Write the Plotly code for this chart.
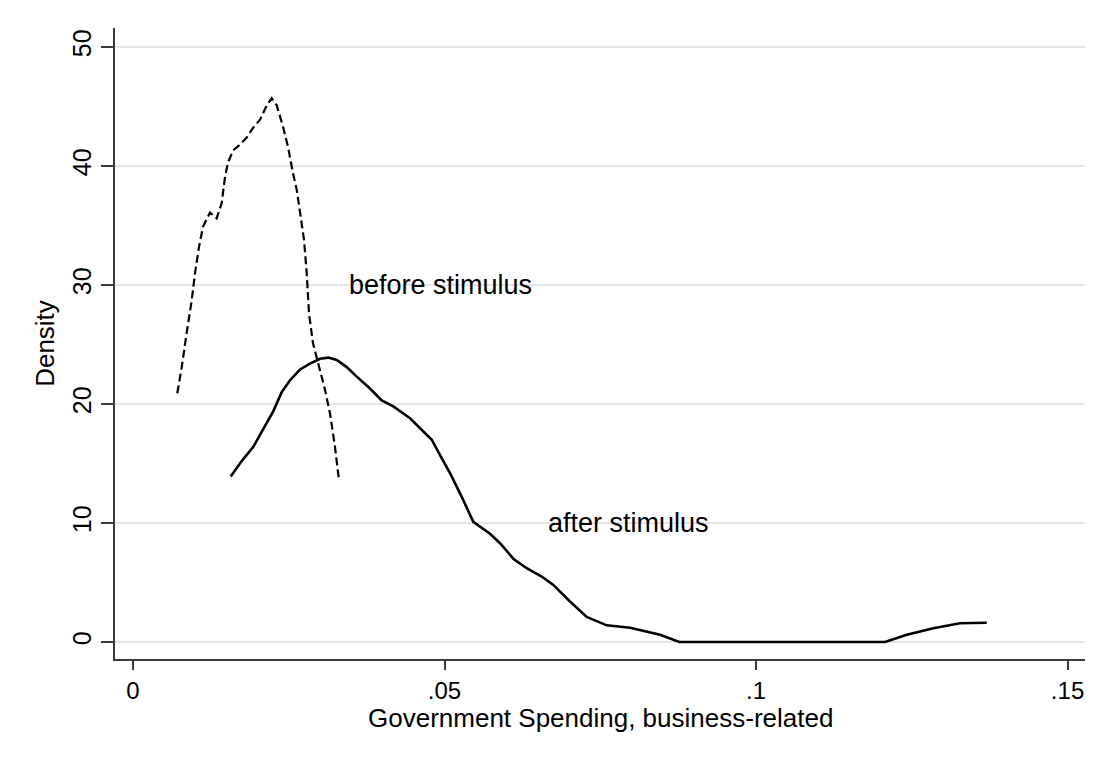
import plotly.graph_objects as go

# Kernel density estimates, business-related government spending share
before_x = [0.00711, 0.00782, 0.00862, 0.00942, 0.00995, 0.01059, 0.01124, 0.01236,
            0.01343, 0.01424, 0.01477, 0.01525, 0.01605, 0.01717, 0.01825, 0.01926,
            0.02039, 0.02146, 0.02226, 0.02307, 0.02408, 0.02488, 0.02568, 0.02628,
            0.02681, 0.02745, 0.02788, 0.02825, 0.02889, 0.02986, 0.03082, 0.03162,
            0.03242, 0.03306]
before_y = [20.9, 23.1, 26.0, 28.7, 31.0, 33.2, 34.9, 36.1,
            35.6, 36.9, 39.1, 40.3, 41.3, 41.8, 42.4, 43.2,
            43.9, 45.1, 45.7, 45.1, 43.3, 41.6, 39.4, 38.0,
            36.1, 33.8, 31.0, 27.6, 25.1, 23.1, 21.2, 19.2,
            16.4, 13.6]

after_x = [0.01568, 0.01745, 0.01931, 0.02119, 0.02252, 0.02387, 0.02520, 0.02681,
           0.02841, 0.03002, 0.03135, 0.03270, 0.03430, 0.03591, 0.03804, 0.03992,
           0.04178, 0.04446, 0.04607, 0.04795, 0.04928, 0.05088, 0.05276, 0.05462,
           0.05730, 0.05891, 0.06104, 0.06319, 0.06560, 0.06746, 0.07014, 0.07282,
           0.07603, 0.07978, 0.08459, 0.08769, 0.12071, 0.12419, 0.12846, 0.13274,
           0.13703]
after_y = [13.9, 15.2, 16.4, 18.1, 19.4, 21.0, 22.0, 22.9,
           23.4, 23.8, 23.9, 23.7, 23.1, 22.3, 21.3, 20.3,
           19.8, 18.8, 18.0, 17.0, 15.7, 14.2, 12.2, 10.1,
           9.1, 8.3, 7.0, 6.2, 5.5, 4.8, 3.4, 2.1,
           1.4, 1.2, 0.6, 0.0, 0.0, 0.6, 1.15, 1.57,
           1.62]

curve_labels = ["before stimulus", "after stimulus"]
label_x = [0.03435, 0.0663]
label_y = [30, 10]

x_ticks = [0, 0.05, 0.1, 0.15]
x_tick_text = ["0", ".05", ".1", ".15"]
y_ticks = [0, 10, 20, 30, 40, 50]
y_tick_text = ["0", "10", "20", "30", "40", "50"]
x_title = "Government Spending, business-related"
y_title = "Density"

FONT = "Arial, Liberation Sans, Helvetica, sans-serif"
FS = 27       # curve labels and axis titles
TICK_FS = 24  # tick labels

fig = go.Figure()
fig.add_trace(go.Scatter(x=before_x, y=before_y, mode="lines",
                         line=dict(color="black", width=2.2, dash="8px,4px"),
                         showlegend=False, hoverinfo="skip"))
fig.add_trace(go.Scatter(x=after_x, y=after_y, mode="lines",
                         line=dict(color="black", width=2.6),
                         showlegend=False, hoverinfo="skip"))

for txt, lx, ly in zip(curve_labels, label_x, label_y):
    fig.add_annotation(x=lx, y=ly, text=txt, showarrow=False,
                       xanchor="left", yanchor="middle",
                       font=dict(family=FONT, size=FS, color="black"))

# x-axis title placed just under the tick labels
fig.add_annotation(x=0.5, y=-0.0935, xref="paper", yref="paper",
                   text=x_title, showarrow=False,
                   xanchor="center", yanchor="middle",
                   font=dict(family=FONT, size=FS - 1, color="black"))

fig.update_layout(
    width=1113, height=758,
    margin=dict(l=115, r=28, t=28, b=99),
    paper_bgcolor="white", plot_bgcolor="white",
    font=dict(family=FONT, size=FS, color="black"),
)
fig.update_xaxes(
    range=[-0.00289, 0.1528], tickvals=x_ticks, ticktext=x_tick_text,
    showline=True, linecolor="#3a3a3a", linewidth=1.5,
    ticks="outside", ticklen=9, tickwidth=1.5, tickcolor="#3a3a3a",
    showgrid=False, zeroline=False,
    tickfont=dict(family=FONT, size=TICK_FS),
)
fig.update_yaxes(
    range=[-1.43, 51.6], tickvals=y_ticks, ticktext=y_tick_text,
    showline=True, linecolor="#3a3a3a", linewidth=1.5,
    ticks="outside", ticklen=12, tickwidth=1.5, tickcolor="#3a3a3a",
    showgrid=True, gridcolor="#e6e6e6", gridwidth=2, zeroline=False,
    tickangle=-90,
    title=dict(text=y_title, font=dict(family=FONT, size=FS - 1), standoff=6),
    tickfont=dict(family=FONT, size=TICK_FS + 1),
)

fig.write_html("out.html")
